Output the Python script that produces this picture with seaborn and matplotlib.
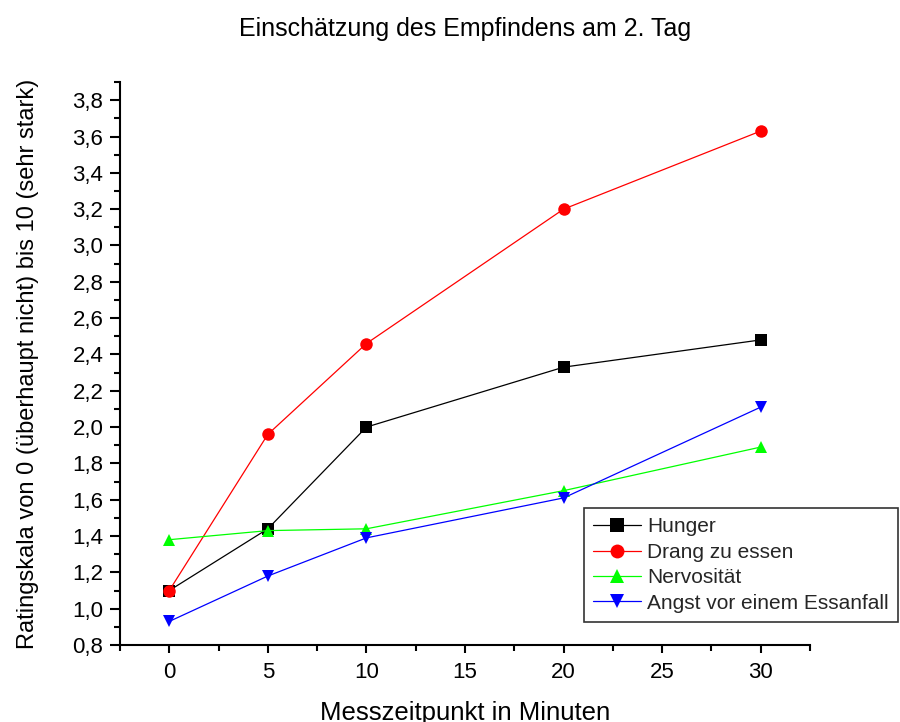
import matplotlib
matplotlib.use("Agg")
import matplotlib.pyplot as plt
import seaborn as sns
import pandas as pd
from matplotlib.ticker import MultipleLocator, FuncFormatter

# Messzeitpunkte (Minuten) und Mittelwerte der Einschätzungen
minutes = [0, 5, 10, 20, 30]
hunger = [1.10, 1.44, 2.00, 2.33, 2.48]
drang = [1.10, 1.96, 2.46, 3.20, 3.63]
nervositaet = [1.38, 1.43, 1.44, 1.65, 1.89]
angst = [0.93, 1.18, 1.39, 1.61, 2.11]

series_names = ["Hunger", "Drang zu essen", "Nervosität", "Angst vor einem Essanfall"]
series_values = [hunger, drang, nervositaet, angst]
colors = ["#000000", "#ff0000", "#00ff00", "#0000ff"]
markers = ["s", "o", "^", "v"]

df = pd.DataFrame(
    [(m, v, name) for name, vals in zip(series_names, series_values) for m, v in zip(minutes, vals)],
    columns=["Minuten", "Wert", "Reihe"],
)

sns.set_theme(style="ticks")
plt.rcParams["font.family"] = ["Liberation Sans", "DejaVu Sans"]

fig = plt.figure(figsize=(9, 7.22), dpi=100)
ax = fig.add_axes([0.1333, 0.1066, 0.7667, 0.7798])

sns.lineplot(
    data=df, x="Minuten", y="Wert", hue="Reihe", style="Reihe",
    hue_order=series_names, style_order=series_names,
    palette=dict(zip(series_names, colors)),
    markers=dict(zip(series_names, markers)),
    dashes=False, linewidth=0.9, markersize=9, markeredgewidth=0,
    ax=ax, legend=True,
)

ax.set_xlim(-2.5, 32.5)
ax.set_ylim(0.8, 3.9)
ax.xaxis.set_major_locator(MultipleLocator(5))
ax.xaxis.set_minor_locator(MultipleLocator(2.5))
ax.yaxis.set_major_locator(MultipleLocator(0.2))
ax.yaxis.set_minor_locator(MultipleLocator(0.1))
ax.yaxis.set_major_formatter(FuncFormatter(lambda v, p: f"{v:.1f}".replace(".", ",")))
ax.set_xticks([0, 5, 10, 15, 20, 25, 30])

for side in ["top", "right"]:
    ax.spines[side].set_visible(False)
for side in ["left", "bottom"]:
    ax.spines[side].set_linewidth(1.5)
    ax.spines[side].set_color("black")

ax.tick_params(axis="y", which="major", length=7, width=1.5, color="black",
               labelsize=16, labelcolor="black", direction="out", pad=5)
ax.tick_params(axis="x", which="major", length=6, width=1.5, color="black",
               labelsize=16, labelcolor="black", direction="out", pad=6)
ax.tick_params(axis="both", which="minor", length=4, width=1.5, color="black", direction="out")

ax.set_xlabel("Messzeitpunkt in Minuten", fontsize=18.5, color="black", labelpad=13)
ax.set_ylabel("Ratingskala von 0 (überhaupt nicht) bis 10 (sehr stark)", fontsize=17,
              color="black", labelpad=24)
ax.yaxis.label.set_verticalalignment("bottom")
ax.set_title("Einschätzung des Empfindens am 2. Tag", fontsize=18, color="black", pad=33)

handles, labels = ax.get_legend_handles_labels()
leg = ax.legend(
    handles, labels, loc="upper right", bbox_to_anchor=(0.998, 0.2964),
    bbox_transform=fig.transFigure, frameon=True, fancybox=False, fontsize=15,
    handlelength=2.3, handletextpad=0.3, borderpad=0.45, labelspacing=0.31,
    borderaxespad=0,
)
leg.get_frame().set_edgecolor("black")
leg.get_frame().set_linewidth(1.2)
for h in leg.legend_handles:
    h.set_markersize(10)

fig.savefig("out.png", dpi=100, facecolor="white")
